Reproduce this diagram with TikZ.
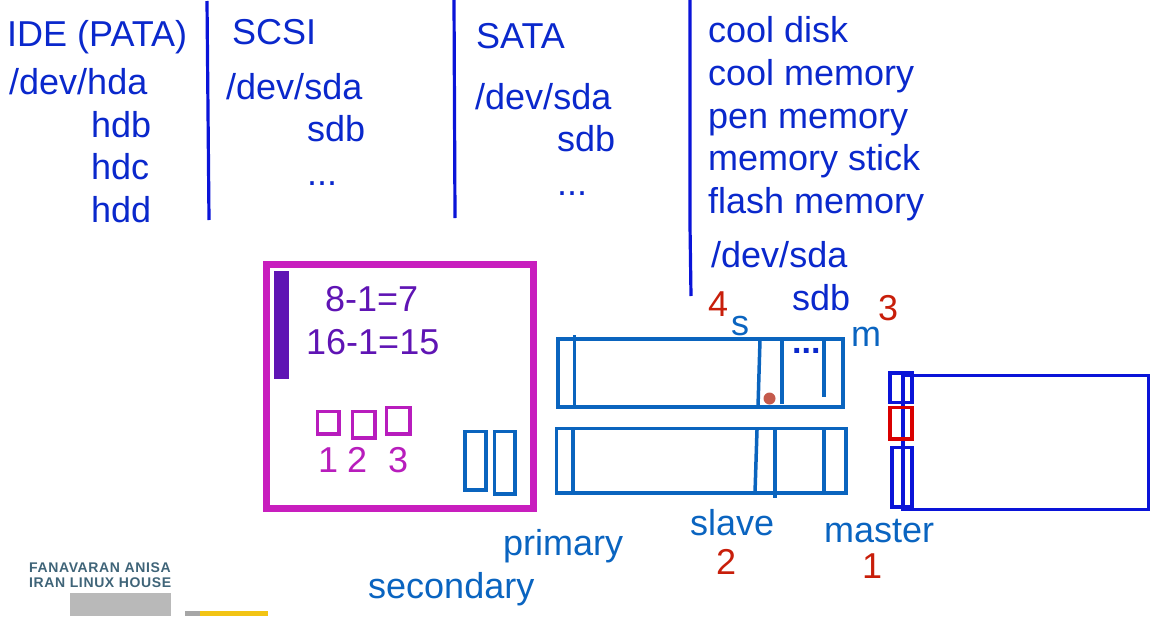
\documentclass[tikz,border=0pt]{standalone}
\usepackage{fontspec}
\setmainfont{Liberation Sans}
\definecolor{txtblue}{HTML}{0A28CC}
\definecolor{lineblue}{HTML}{0A14D8}
\definecolor{diskblue}{HTML}{0A64BE}
\definecolor{labblue}{HTML}{0A64C0}
\definecolor{magbox}{HTML}{C81EBE}
\definecolor{purp}{HTML}{5F14B4}
\definecolor{redn}{HTML}{C81E0A}
\definecolor{logot}{HTML}{3F6478}
\definecolor{dotred}{HTML}{C45A4C}
\definecolor{logoyel}{HTML}{F2C414}
\tikzset{
  lab/.style={anchor=base west,inner sep=0pt,yshift=-1pt,font=\fontsize{36}{36}\selectfont,text=txtblue},
  purptxt/.style={lab,text=purp},
  magtxt/.style={lab,text=magbox!85!purp},
  disktxt/.style={lab,text=labblue},
  rednum/.style={lab,text=redn},
  logotxt/.style={anchor=base west,inner sep=0pt,font=\fontsize{14}{14}\selectfont\bfseries\addfontfeature{LetterSpace=4.5},text=logot},
  divider/.style={draw=lineblue,line width=3.2pt},
  disk/.style={draw=diskblue,line width=3.5pt},
  smallsq/.style={draw=magbox!85!purp,line width=3.2pt},
  hdd/.style={draw=lineblue,line width=3.4pt}
}
\begin{document}
\begin{tikzpicture}[x=1pt,y=-1pt]
\useasboundingbox (0,0) rectangle (1162,616);
\clip (0,0) rectangle (1162,616);
% columns
\node[lab] (ide) at (7,45) {IDE (PATA)};
\node[lab] (hda) at (9,93) {/dev/hda};
\node[lab] (hdb) at (91,136) {hdb};
\node[lab] (hdc) at (91,178) {hdc};
\node[lab] (hdd) at (91,221) {hdd};
\node[lab] (scsi) at (232,43) {SCSI};
\node[lab] (sda1) at (226,98) {/dev/sda};
\node[lab] (sdb1) at (307,140) {sdb};
\node[lab] (dots1) at (307,184) {...};
\node[lab] (sata) at (476,47) {SATA};
\node[lab] (sda2) at (475,108) {/dev/sda};
\node[lab] (sdb2) at (557,150) {sdb};
\node[lab] (dots2) at (557,194) {...};
\node[lab] (cd) at (708,41) {cool disk};
\node[lab] (cm) at (708,84) {cool memory};
\node[lab] (pm) at (708,127) {pen memory};
\node[lab] (ms) at (708,169) {memory stick};
\node[lab] (fm) at (708,212) {flash memory};
\node[lab] (sda3) at (711,266) {/dev/sda};
\node[lab] (sdb3) at (792,309) {sdb};
\draw[divider] (207,1) -- (209,220);
\draw[divider] (454,0) -- (455,218);
\draw[divider] (690,0) -- (690,225) -- (691,296);
% motherboard
\draw[draw=magbox,line width=7pt] (266.5,264) rectangle (533.5,508.5);
\fill[purp] (274,271) rectangle (289,379);
\node[purptxt] (eq1) at (325,310) {8-1=7};
\node[purptxt] (eq2) at (306,353) {16-1=15};
\draw[smallsq] (317.5,411.5) rectangle (339,434);
\draw[smallsq] (352.5,411.5) rectangle (375,438);
\draw[smallsq] (386.5,407.5) rectangle (410,434);
\node[magtxt] (n1) at (318,471) {1};
\node[magtxt] (n2) at (347,471) {2};
\node[magtxt] (n3) at (388,471) {3};
\draw[disk] (465,431.5) rectangle (486,490);
\draw[disk] (494.5,431.5) rectangle (515,494);
% cables
\draw[disk] (558,339) rectangle (843,407);
\draw[disk] (574.5,335) -- (574.5,407);
\draw[disk] (760,340) -- (758,407);
\draw[disk] (782,340) -- (782,404);
\draw[disk] (824,340) -- (824,397);
\fill[dotred] (769.5,398.5) circle (6);
\node[lab,font=\fontsize{34}{34}\selectfont\bfseries] (dots3) at (792,352) {...};
\draw[disk] (556.5,428.5) rectangle (846,493);
\draw[disk] (573,428) -- (573,495);
\draw[disk] (757,430) -- (755,493);
\draw[disk] (775,430) -- (775,498);
\draw[disk] (824,428) -- (824,493);
\node[rednum] (four) at (708,315) {4};
\node[disktxt] (s) at (731,334) {s};
\node[disktxt] (m) at (851,345) {m};
\node[rednum] (three) at (878,319) {3};
\node[disktxt] (slave) at (690,534) {slave};
\node[disktxt] (master) at (824,541) {master};
\node[disktxt] (primary) at (503,554) {primary};
\node[disktxt] (secondary) at (368,597) {secondary};
\node[rednum] (two) at (716,573) {2};
\node[rednum] (one) at (862,577) {1};
% disk
\draw[hdd] (903,375.5) rectangle (1148.5,509.5);
\draw[hdd] (890,373) rectangle (912,402.5);
\draw[draw=red!85!black,line width=3.4pt] (890,407.5) rectangle (912,439);
\draw[hdd] (892,447.5) rectangle (912,507);
% logo
\node[logotxt] (l1) at (29,572) {FANAVARAN ANISA};
\node[logotxt] (l2) at (29,587) {IRAN LINUX HOUSE};
\fill[gray!55] (70,593) rectangle (171,616);
\fill[gray!70] (185,611) rectangle (200,616);
\fill[logoyel] (200,611) rectangle (268,616);
\end{tikzpicture}
\end{document}
